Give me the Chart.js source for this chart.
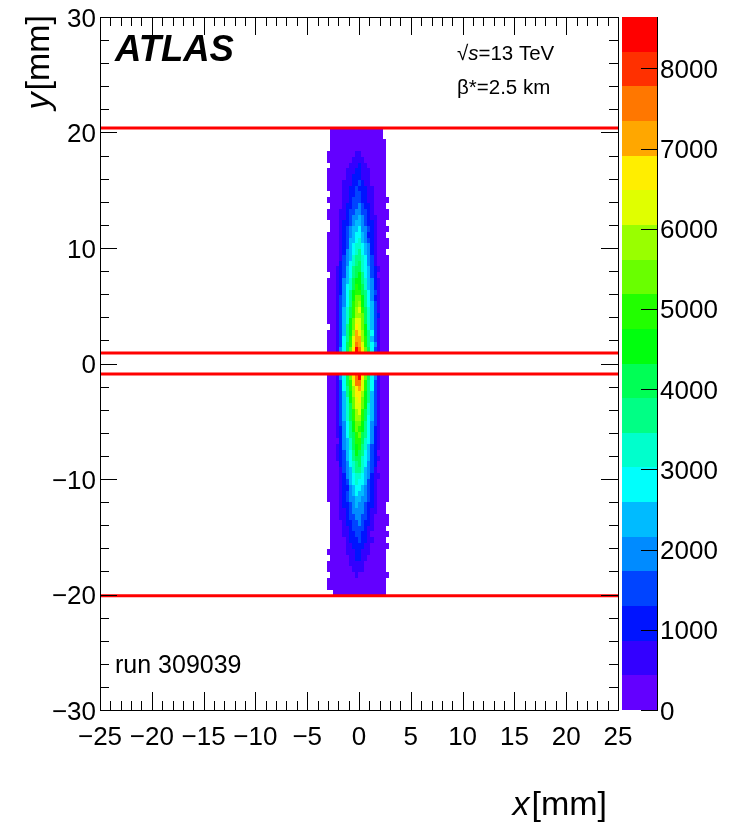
<!DOCTYPE html>
<html><head><meta charset="utf-8">
<style>html,body{margin:0;padding:0;background:#fff;}canvas{display:block;}</style>
<script src="https://cdn.jsdelivr.net/npm/chart.js@4.4.1/dist/chart.umd.min.js"></script>
</head><body>
<canvas id="c" width="730" height="828"></canvas>
<script>
// ---- binning of the 2D histogram (x bins of 0.3 mm starting at -3.1 mm) ----
const xBinStart = -3.1;
const xBinWidth = 0.3;
const upperEdges = [20.4, 0.9];   // y range of the upper block (top, bottom)
const lowerEdges = [-0.9, -20.1]; // y range of the lower block (top, bottom)
const levelStep = 432;            // counts per colour class
const zMax = 8640;
// each character = colour class of one cell ('.' = empty, 0-9, a-j = 10-19)
const upperRows = [
".00000000000000000..",
".00000000000000000..",
".000000000000000000.",
".000000000000000000.",
"0000000001100000000.",
"0000000011110000000.",
".000000111211000000.",
"0000001112211100000.",
"0000001122211100000.",
"0000011122321100000.",
"0000011223222110000.",
".000011223322110000.",
"00000112333221100000",
".000012233432210000.",
"00001123344332100000",
"00001123445432110000",
".000122345543221000.",
".0001234556443210000",
"0000123456654221000.",
"00001235567543210000",
"00001235677654210000",
"0000124567865421000.",
"00001345788764310000",
"00002346789764310000",
"00012356899765321000",
".001235689a865320000",
"000124579aa875421000",
"000124679ba975421000",
"00012468abb986431000",
"00013468acca86421000",
"00013468bcda86531000",
"00013579bdeb97531000",
"00013579bddc97532000",
"0001357aceec97531000",
".001358acfeca7531000",
"0001358adgfda8631000",
"0001368beggdb8531000",
"0001369behgeb8641000",
"0001469cfjhfc9631000"
];
const lowerRows = [
"0001469cfhjfc9641000",
"0001369behheb8631000",
"0001368bdfgeb8631000",
"0001358adffda8531000",
"0001357acefca8531000",
"00013579ceeca7531000",
"00013579bdeb97531000",
"00013579bddb96531000",
"00013468acca86431000",
"00012468acba86421000",
"000124689bc986421000",
"000024579bb976421000",
"000124579ab875321000",
"000123568a9865320000",
"00012356899765321000",
"00002346789764320000",
"00001345788754310000",
"00001245677654211000",
"00001235676653210000",
"00001224566543210000",
"00001234565543210000",
"00001234455443210000",
".000122345443221000.",
".000112344443211000.",
".0001123344332100000",
".0000122334322100000",
".000011233332110000.",
".0000112233221000000",
".000001222322110000.",
".0000011222211000000",
"0000001112211100000.",
".000000112211000000.",
"0000000111110000000.",
"0000000011110000000.",
".0000000010000000000",
"0000000000000000000.",
"0000000000000000000.",
"..00000000000000000."
];
const cutLines = [20.4, 0.9, -0.9, -20.1];
const xTickLabels = [-25, -20, -15, -10, -5, 0, 5, 10, 15, 20, 25];
const yTickLabels = [-30, -20, -10, 0, 10, 20, 30];
const zTickLabels = [0, 1000, 2000, 3000, 4000, 5000, 6000, 7000, 8000];
const paletteHues = [263.2, 252, 235.2, 224, 207.2, 196, 179.2, 168, 151.2, 140, 123.2, 112, 95.2, 84, 67.2, 56, 39.2, 28, 11.2, 0];

function decodeRows(rows, edges) {
  const h = (edges[0] - edges[1]) / rows.length;
  const out = [];
  rows.forEach((r, i) => {
    for (let c = 0; c < r.length; c++) {
      const ch = r[c];
      if (ch === '.') continue;
      const lvl = parseInt(ch, 36);
      out.push({ x0: xBinStart + c * xBinWidth, x1: xBinStart + (c + 1) * xBinWidth,
                 y1: edges[0] - i * h, y0: edges[0] - (i + 1) * h, v: (lvl + 0.5) * levelStep });
    }
  });
  return out;
}
const cells = decodeRows(upperRows, upperEdges).concat(decodeRows(lowerRows, lowerEdges));
const colorOf = (i) => 'hsl(' + paletteHues[i] + ',100%,50%)';
const FONT = '"Liberation Sans", Arial, Helvetica, sans-serif';
const fmt = (v) => (v < 0 ? '\u2212' + Math.abs(v) : String(v));

const heatPlugin = {
  id: 'heat',
  beforeDatasetsDraw(chart) {
    const { ctx, scales: { x, y } } = chart;
    ctx.save();
    for (const cl of cells) {
      const lvl = Math.min(paletteHues.length - 1, Math.floor(cl.v / levelStep));
      ctx.fillStyle = colorOf(lvl);
      const px0 = Math.round(x.getPixelForValue(cl.x0)), px1 = Math.round(x.getPixelForValue(cl.x1));
      const py0 = Math.round(y.getPixelForValue(cl.y1)), py1 = Math.round(y.getPixelForValue(cl.y0));
      ctx.fillRect(px0, py0, px1 - px0, py1 - py0);
    }
    ctx.restore();
  }
};

const framePlugin = {
  id: 'frame',
  afterDraw(chart) {
    const { ctx, scales: { x, y, z } } = chart;
    const L = x.getPixelForValue(-25), R = x.getPixelForValue(25);
    const T = y.getPixelForValue(30), B = y.getPixelForValue(-30);
    ctx.save();
    ctx.strokeStyle = '#000'; ctx.lineWidth = 1;
    ctx.strokeRect(Math.round(L) + 0.5, Math.round(T) + 0.5, Math.round(R - L), Math.round(B - T));
    ctx.beginPath();
    for (let v = -25; v <= 25; v++) {
      const px = Math.round(x.getPixelForValue(v)) + 0.5;
      const len = (v % 5 === 0) ? 18 : 9;
      ctx.moveTo(px, B); ctx.lineTo(px, B - len);
      ctx.moveTo(px, T); ctx.lineTo(px, T + len);
    }
    for (let v = -30; v <= 30; v += 2) {
      const py = Math.round(y.getPixelForValue(v)) + 0.5;
      const len = (v % 10 === 0) ? 17 : 9;
      ctx.moveTo(L, py); ctx.lineTo(L + len, py);
      ctx.moveTo(R, py); ctx.lineTo(R - len, py);
    }
    ctx.stroke();

    // colour bar
    const barL = Math.round(R) + 4, barR = Math.round(R) + 39;
    for (let j = 0; j < paletteHues.length; j++) {
      const yt = Math.round(z.getPixelForValue((j + 1) * levelStep));
      const yb = Math.round(z.getPixelForValue(j * levelStep));
      ctx.fillStyle = colorOf(j);
      ctx.fillRect(barL, yt, barR - barL, yb - yt);
    }
    ctx.beginPath();
    ctx.moveTo(barR + 0.5, Math.round(T)); ctx.lineTo(barR + 0.5, Math.round(B) + 1);
    for (const v of zTickLabels) {
      const py = Math.round(z.getPixelForValue(v)) + 0.5;
      ctx.moveTo(barR - 16, py); ctx.lineTo(barR + 1, py);
    }
    ctx.stroke();

    // tick labels
    ctx.fillStyle = '#000';
    ctx.font = '26px ' + FONT;
    ctx.textBaseline = 'alphabetic';
    ctx.textAlign = 'center';
    for (const v of xTickLabels) ctx.fillText(fmt(v), x.getPixelForValue(v), 745);
    ctx.textAlign = 'right';
    for (const v of yTickLabels) ctx.fillText(fmt(v), L - 4, y.getPixelForValue(v) + 9.5);
    ctx.textAlign = 'left';
    for (const v of zTickLabels) ctx.fillText(fmt(v), barR + 3, z.getPixelForValue(v) + 9.5);

    // axis titles
    const tf = 34;
    ctx.font = 'italic ' + tf + 'px ' + FONT;
    const wx = ctx.measureText('x').width;
    ctx.font = tf + 'px ' + FONT;
    const wmm = ctx.measureText('[mm]').width;
    ctx.textAlign = 'left';
    let sx = 607 - wx - wmm - 2;
    ctx.font = 'italic ' + tf + 'px ' + FONT; ctx.fillText('x', sx, 815);
    ctx.font = tf + 'px ' + FONT; ctx.fillText('[mm]', sx + wx + 2, 815);

    ctx.save();
    ctx.translate(49, T - 2);
    ctx.rotate(-Math.PI / 2);
    ctx.font = 'italic ' + tf + 'px ' + FONT;
    const wy = ctx.measureText('y').width;
    let sy = -(wy + wmm + 2);
    ctx.fillText('y', sy, 0);
    ctx.font = tf + 'px ' + FONT; ctx.fillText('[mm]', sy + wy + 2, 0);
    ctx.restore();

    // labels
    ctx.font = 'italic bold 36.5px ' + FONT;
    ctx.fillText('ATLAS', 115, 61);
    const sf = '20.5px ';
    ctx.font = sf + FONT;
    ctx.fillText('\u221A', 457, 60);
    let w1 = ctx.measureText('\u221A').width;
    ctx.font = 'italic ' + sf + FONT;
    ctx.fillText('s', 457 + w1, 60);
    let w2 = ctx.measureText('s').width;
    ctx.font = sf + FONT;
    ctx.fillText('=13 TeV', 457 + w1 + w2, 60);
    ctx.fillText('\u03B2*=2.5 km', 457, 94);
    ctx.font = '25px ' + FONT;
    ctx.fillText('run 309039', 115, 673);
    ctx.restore();
  }
};

new Chart(document.getElementById('c'), {
  type: 'scatter',
  data: {
    datasets: cutLines.map(v => ({
      data: [{ x: -25, y: v }, { x: 25, y: v }],
      showLine: true, borderColor: 'rgb(255,0,0)', borderWidth: 3,
      pointRadius: 0, fill: false
    }))
  },
  options: {
    responsive: false, animation: false, devicePixelRatio: 1, events: [],
    layout: { padding: { left: 100, right: 112, top: 17, bottom: 118 } },
    plugins: { legend: { display: false }, tooltip: { enabled: false } },
    scales: {
      x: { type: 'linear', min: -25, max: 25, display: false },
      y: { type: 'linear', min: -30, max: 30, display: false },
      z: { type: 'linear', min: 0, max: zMax, display: false, position: 'right' }
    }
  },
  plugins: [heatPlugin, framePlugin]
});
</script>
</body></html>
